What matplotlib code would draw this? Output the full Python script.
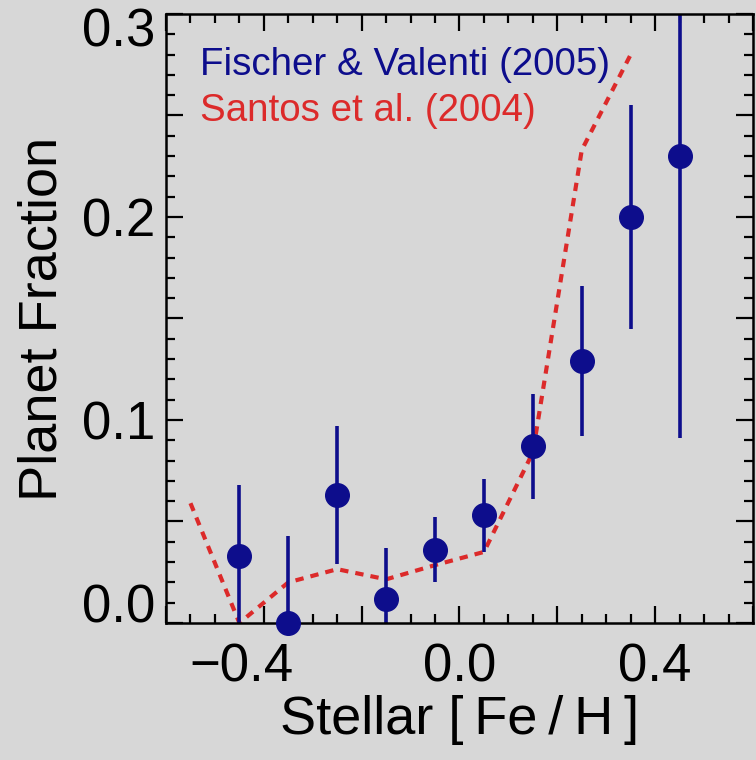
import numpy as np
import matplotlib
matplotlib.use('Agg')
import matplotlib.pyplot as plt
from matplotlib.ticker import MultipleLocator, FixedLocator, FixedFormatter
from matplotlib.transforms import ScaledTranslation

# Fischer & Valenti (2005): binned planet fraction with errors
fv_feh = [-0.45, -0.35, -0.25, -0.15, -0.05, 0.05, 0.15, 0.25, 0.35, 0.45]
fv_frac = [0.033, 0.000, 0.063, 0.012, 0.036, 0.053, 0.087, 0.129, 0.200, 0.230]
fv_err = [0.035, 0.043, 0.034, 0.025, 0.016, 0.018, 0.026, 0.037, 0.055, 0.139]

# Santos et al. (2004): dashed curve
santos_feh = [-0.55, -0.45, -0.35, -0.25, -0.15, -0.05, 0.05, 0.15, 0.25, 0.35]
santos_frac = [0.059, 0.000, 0.020, 0.0265, 0.0215, 0.0285, 0.035, 0.084, 0.233, 0.280]

xticks = [-0.6, -0.4, -0.2, 0.0, 0.2, 0.4, 0.6]
xlabels = ['', '\u22120.4', '', '0.0', '', '0.4', '']
yticks = [0.0, 0.05, 0.1, 0.15, 0.2, 0.25, 0.3]
ylabels = ['0.0', '', '0.1', '', '0.2', '', '0.3']

bg = '#d7d7d7'
blue = '#0d0d8c'
red = '#dc2a2a'
plt.rcParams['font.family'] = ['Liberation Sans', 'DejaVu Sans']

fig = plt.figure(figsize=(7.56, 7.60), dpi=100, facecolor=bg)
ax = fig.add_axes([0.2196, 0.1803, 0.7764, 0.8013], facecolor=bg)

ax.plot(santos_feh, santos_frac, ls=(0, (2.0, 1.7)), color=red, lw=3.0)
ax.errorbar(fv_feh, fv_frac, yerr=fv_err, fmt='none', ecolor=blue, elinewidth=2.6)
ax.plot(fv_feh, fv_frac, 'o', color=blue, ms=17, clip_on=False, zorder=5)

ax.set_xlim(-0.6, 0.6)
ax.set_ylim(0.0, 0.3)
ax.xaxis.set_major_locator(FixedLocator(xticks))
ax.xaxis.set_major_formatter(FixedFormatter(xlabels))
ax.xaxis.set_minor_locator(MultipleLocator(0.05))
ax.yaxis.set_major_locator(FixedLocator(yticks))
ax.yaxis.set_major_formatter(FixedFormatter(ylabels))
ax.yaxis.set_minor_locator(MultipleLocator(0.01))

ax.tick_params(which='both', direction='in', top=True, right=True, width=1.6, color='black')
ax.tick_params(which='major', length=12)
ax.tick_params(which='minor', length=6.5)
ax.tick_params(axis='x', which='major', labelsize=38, pad=14)
ax.tick_params(axis='y', which='major', labelsize=38, pad=8)
for s in ax.spines.values():
    s.set_linewidth(1.8)

ax.set_xlabel('Stellar [\u2009Fe\u2009/\u2009H\u2009]', fontsize=39, labelpad=2)
ax.set_ylabel('Planet Fraction', fontsize=39, labelpad=10)

ax.text(0.058, 0.90, 'Fischer & Valenti (2005)', transform=ax.transAxes,
        color=blue, fontsize=27.7, va='baseline')
ax.text(0.058, 0.824, 'Santos et al. (2004)', transform=ax.transAxes,
        color=red, fontsize=27.7, va='baseline')

# IDL-style placement of edge labels and the negative label
fig.canvas.draw()
xl = ax.get_xticklabels()
xl[1].set_transform(xl[1].get_transform() + ScaledTranslation(-0.22, 0, fig.dpi_scale_trans))
yl = ax.get_yticklabels()
yl[0].set_va('baseline')
yl[-1].set_va('top')
yl[-1].set_transform(yl[-1].get_transform() + ScaledTranslation(0, 0.06, fig.dpi_scale_trans))

fig.savefig('out.png', dpi=100, facecolor=bg)
